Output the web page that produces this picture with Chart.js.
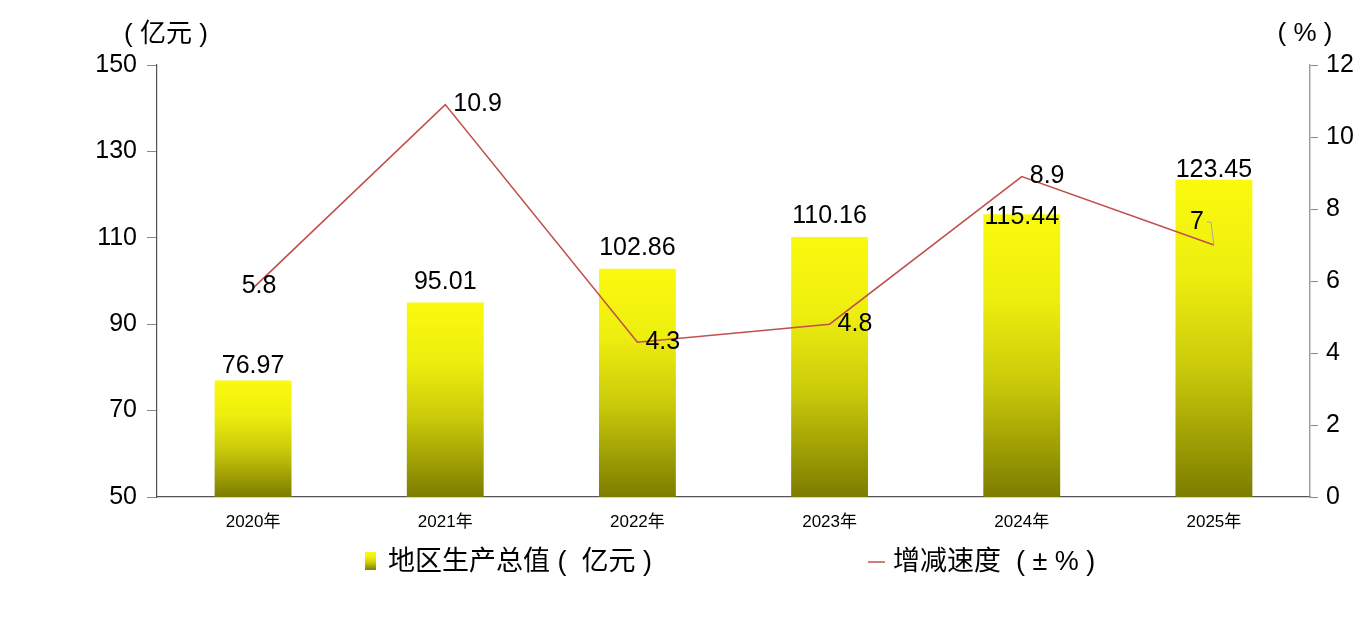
<!DOCTYPE html>
<html>
<head>
<meta charset="utf-8">
<script src="https://cdn.jsdelivr.net/npm/chart.js@4.4.0/dist/chart.umd.min.js"></script>
<style>
  html, body { margin: 0; padding: 0; background: #ffffff; }
  #wrap { width: 1362px; height: 619px; }
</style>
</head>
<body>
<div id="wrap"><canvas id="c" width="1362" height="619"></canvas></div>
<script>
// ---- data ----
const categories = ['2020年', '2021年', '2022年', '2023年', '2024年', '2025年'];
const gdpValues = [76.97, 95.01, 102.86, 110.16, 115.44, 123.45];
const growthValues = [5.8, 10.9, 4.3, 4.8, 8.9, 7];
const leftTickRange = [50, 150, 20];   // min, max, step
const rightTickRange = [0, 12, 2];     // min, max, step
const gdpLabel = '地区生产总值 (  亿元 )';
const growthLabel = '增减速度  ( ± % )';
const leftUnit = '( 亿元 )';
const rightUnit = '( % )';

const FONT = "'Liberation Sans', 'Noto Sans CJK SC', Arial, sans-serif";
const LINE_COLOR = '#c0504d';

function barGradient(c2d, top, bottom) {
  const g = c2d.createLinearGradient(0, top, 0, bottom);
  g.addColorStop(0, '#fafa0e');
  g.addColorStop(0.3, '#eeee0f');
  g.addColorStop(0.6, '#c9c90b');
  g.addColorStop(1, '#7c7c00');
  return g;
}

function barFill(ctx) {
  const chart = ctx.chart;
  if (!chart.chartArea || ctx.type !== 'data') return '#f0f010';
  const ys = chart.scales.y;
  const top = ys.getPixelForValue(ctx.raw);
  const bottom = ys.getPixelForValue(ys.min);
  return barGradient(chart.ctx, top, bottom);
}

const labelPlugin = {
  id: 'valueLabels',
  afterDatasetsDraw(chart) {
    const c = chart.ctx;
    c.save();
    c.font = '25px ' + FONT;
    c.fillStyle = '#000';
    c.textBaseline = 'middle';
    // bar labels
    const barOffsets = [-14, -20, -21, -21, 3, -10];
    const bm = chart.getDatasetMeta(0);
    bm.data.forEach((el, i) => {
      c.textAlign = 'center';
      c.fillText(String(gdpValues[i]), el.x, el.y + barOffsets[i]);
    });
    // line labels
    const lm = chart.getDatasetMeta(1);
    lm.data.forEach((el, i) => {
      const txt = String(growthValues[i]);
      if (i === 0) {
        c.textAlign = 'center';
        c.fillText(txt, el.x + 6, el.y - 2);
      } else if (i === growthValues.length - 1) {
        c.textAlign = 'center';
        c.fillText(txt, el.x - 17, el.y - 23);
        c.strokeStyle = '#a8a8a8';
        c.lineWidth = 1;
        c.beginPath();
        c.moveTo(el.x - 7, el.y - 23);
        c.lineTo(el.x - 3, el.y - 23);
        c.lineTo(el.x, el.y);
        c.stroke();
      } else {
        c.textAlign = 'left';
        c.fillText(txt, el.x + 8, el.y);
      }
    });
    c.restore();
  },
  afterDraw(chart) {
    const c = chart.ctx;
    c.save();
    // axis unit titles
    c.fillStyle = '#000';
    c.textBaseline = 'middle';
    c.textAlign = 'center';
    c.font = '26px ' + FONT;
    c.fillText(leftUnit, 166, 35);
    c.fillText(rightUnit, 1305, 34);
    // legend
    c.font = '27px ' + FONT;
    c.textAlign = 'left';
    c.fillStyle = barGradient(c, 552, 570);
    c.fillRect(365, 552, 11, 18);
    c.fillStyle = '#000';
    c.fillText(gdpLabel, 388, 563);
    c.strokeStyle = LINE_COLOR;
    c.lineWidth = 1.5;
    c.beginPath();
    c.moveTo(868, 562);
    c.lineTo(885, 562);
    c.stroke();
    c.fillText(growthLabel, 893, 563);
    c.restore();
  }
};

new Chart(document.getElementById('c'), {
  data: {
    labels: categories,
    datasets: [
      {
        type: 'bar',
        label: gdpLabel,
        data: gdpValues,
        yAxisID: 'y',
        backgroundColor: barFill,
        borderWidth: 0,
        barPercentage: 0.4,
        categoryPercentage: 1.0,
        order: 2
      },
      {
        type: 'line',
        label: growthLabel,
        data: growthValues,
        yAxisID: 'y1',
        borderColor: LINE_COLOR,
        borderWidth: 1.6,
        pointRadius: 0,
        tension: 0,
        fill: false,
        order: 1
      }
    ]
  },
  options: {
    responsive: false,
    animation: false,
    layout: { padding: { top: 65, left: 0, right: 0, bottom: 0 } },
    plugins: { legend: { display: false }, tooltip: { enabled: false } },
    scales: {
      x: {
        grid: { display: false, drawTicks: false },
        border: { display: true, color: '#555555', width: 1.2 },
        ticks: { color: '#000', font: { size: 17, family: FONT }, padding: 15, maxRotation: 0 },
        afterFit(s) { s.height = 122; }
      },
      y: {
        position: 'left',
        min: leftTickRange[0], max: leftTickRange[1],
        ticks: { stepSize: leftTickRange[2], color: '#000', font: { size: 25, family: FONT }, padding: 10 },
        grid: { drawOnChartArea: false, drawTicks: true, tickLength: 10, tickColor: '#8a8a8a' },
        border: { display: true, color: '#505050', width: 1.2 },
        afterFit(s) { s.width = 157; }
      },
      y1: {
        position: 'right',
        min: rightTickRange[0], max: rightTickRange[1],
        ticks: { stepSize: rightTickRange[2], color: '#000', font: { size: 25, family: FONT }, padding: 8 },
        grid: { drawOnChartArea: false, drawTicks: true, tickLength: 8, tickColor: '#8a8a8a' },
        border: { display: true, color: '#a0a0a0', width: 1.5 },
        afterFit(s) { s.width = 52; }
      }
    }
  },
  plugins: [labelPlugin]
});
</script>
</body>
</html>
